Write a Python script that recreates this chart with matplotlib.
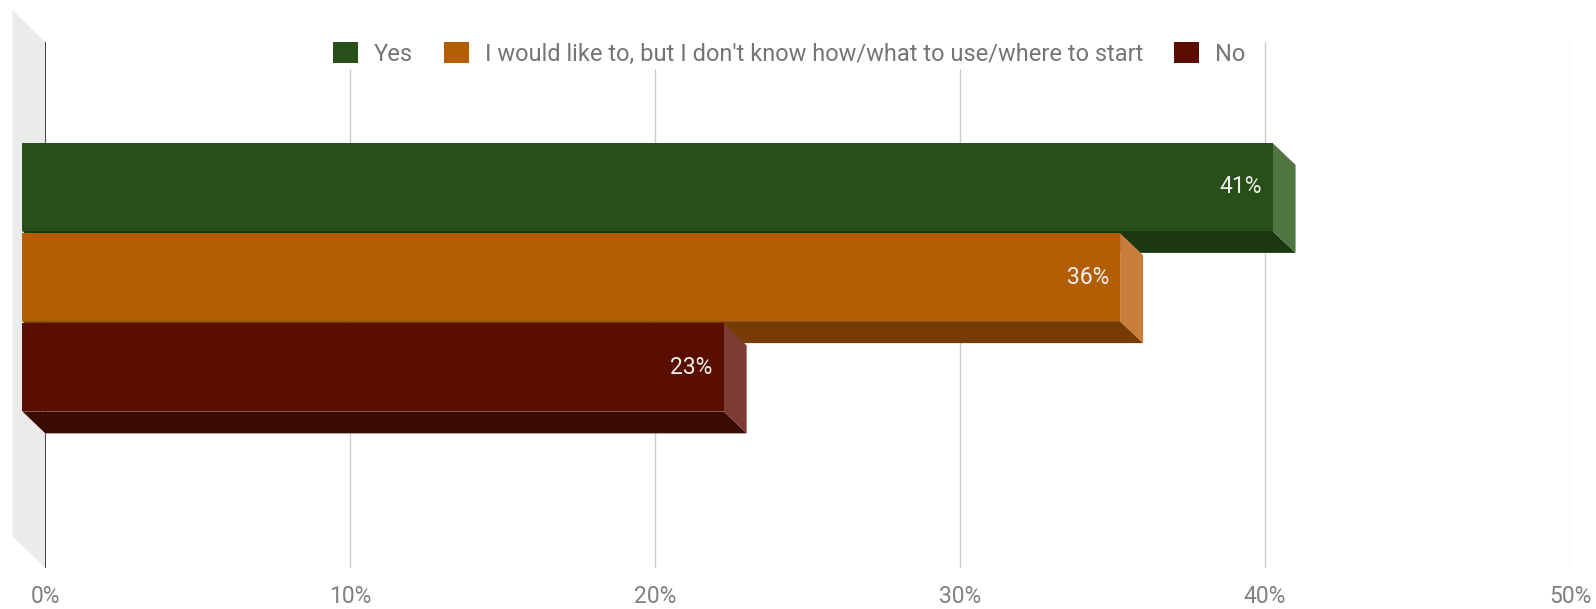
import matplotlib

matplotlib.use("Agg")
import matplotlib.pyplot as plt
from matplotlib.patches import Patch, Polygon, Rectangle

plt.rcParams["font.family"] = ["Roboto", "DejaVu Sans"]

# survey answers, share of respondents (%)
answers = ["Yes", "I would like to, but I don't know how/what to use/where to start", "No"]
shares = [41, 36, 23]
front_colors = ["#284f17", "#b35d05", "#5a0e00"]
side_colors = ["#4f7641", "#c77e3b", "#7b3d33"]
bottom_colors = ["#1b3710", "#763c03", "#3b0a00"]
ticks = [0, 10, 20, 30, 40, 50]

W, H = 1596, 609
fig = plt.figure(figsize=(W / 100, H / 100), dpi=100)
ax = fig.add_axes([45.3 / W, 41 / H, (1570 - 45.3) / W, (568 - 42) / H])

ax.set_xlim(0, 50)
ax.set_ylim(3.98, -1.85)
PX_X = (1570 - 45.3) / 50      # pixels per percent
PX_Y = 90.3                    # pixels per bar slot

# 3D depth offsets (front face sits up and to the left of the back plane)
dx, dy = -23 / PX_X, -22 / PX_Y
wdx, wdy = -33 / PX_X, -32 / PX_Y
bar_h = 0.975

# left wall
y_top, y_bot = -1.85, 3.98
ax.add_patch(Polygon([(0, y_top), (wdx, y_top + wdy), (wdx, y_bot + wdy), (0, y_bot)],
                     closed=True, facecolor="#ebebeb", edgecolor="none", clip_on=False, zorder=0))

for t in ticks[1:]:
    ax.axvline(t, color="#cccccc", lw=1, zorder=1)
ax.axvline(0, color="#333333", lw=1.3, zorder=1)

for i, (v, fc, sc, bc) in enumerate(zip(shares, front_colors, side_colors, bottom_colors)):
    y0, y1 = i - bar_h / 2, i + bar_h / 2
    ax.add_patch(Polygon([(dx, y1 + dy), (v + dx, y1 + dy), (v, y1), (0, y1)],
                         closed=True, facecolor=bc, edgecolor="none", clip_on=False, zorder=2))
    ax.add_patch(Polygon([(v + dx, y0 + dy), (v, y0), (v, y1), (v + dx, y1 + dy)],
                         closed=True, facecolor=sc, edgecolor="none", clip_on=False, zorder=2))
    ax.add_patch(Rectangle((dx, y0 + dy), v, bar_h, facecolor=fc, edgecolor="none",
                           clip_on=False, zorder=3))
    ax.text(v + dx - 11 / PX_X, i + dy, f"{v}%", ha="right", va="center",
            color="#eeeeee", fontsize=16.5, zorder=4)

ax.set_xticks(ticks)
ax.set_xticklabels([f"{t}%" for t in ticks])
ax.tick_params(axis="x", length=0, pad=12, labelsize=16.5, labelcolor="#808080")
ax.set_yticks([])
for s in ax.spines.values():
    s.set_visible(False)

handles = [Patch(facecolor=c, edgecolor="none") for c in front_colors]
leg = fig.legend(handles, answers, loc="center", bbox_to_anchor=(789 / W, 1 - 54 / H),
                 ncol=3, frameon=True, fontsize=17, handlelength=1.06, handleheight=1.0,
                 handletextpad=0.68, columnspacing=1.3, borderpad=0.15, labelcolor="#757575")
leg.get_frame().set_facecolor("white")
leg.get_frame().set_edgecolor("none")
leg.get_frame().set_alpha(1)

fig.savefig("out.png", dpi=100)
